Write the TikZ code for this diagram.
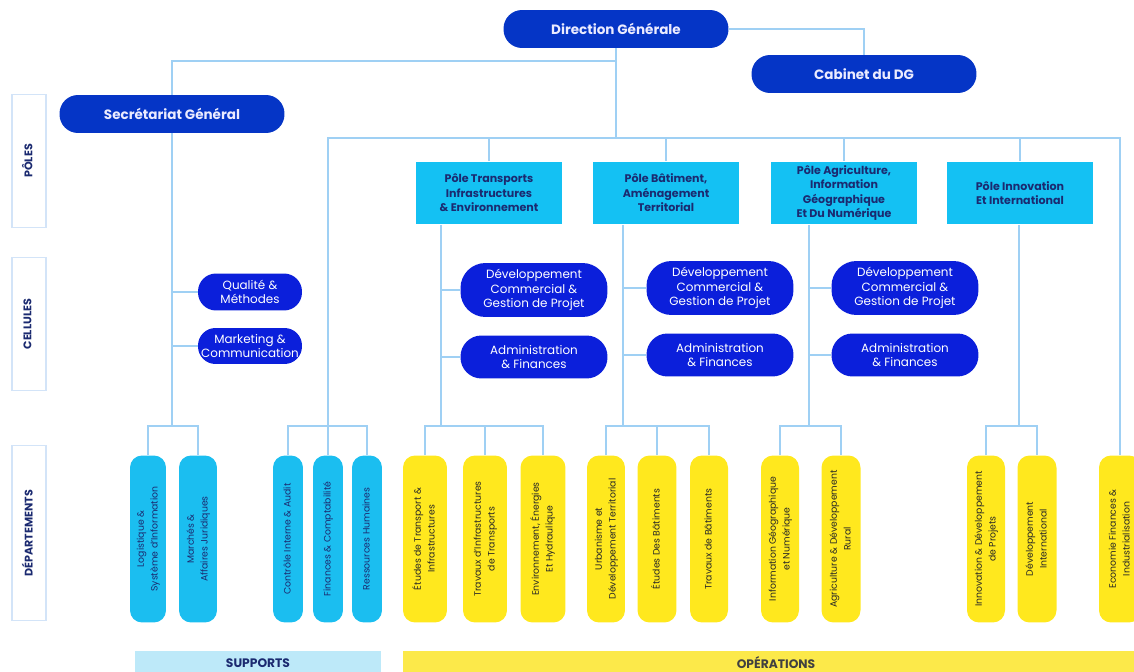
\documentclass[tikz,border=0pt]{standalone}
\usepackage{fontspec}
\setmainfont{Poppins}

\definecolor{dgblue}{HTML}{0535C6}
\definecolor{cellblue}{HTML}{0B1FDB}
\definecolor{polecyan}{HTML}{14C1F3}
\definecolor{supcyan}{HTML}{1BBEF0}
\definecolor{opyellow}{HTML}{FFE81E}
\definecolor{linkblue}{HTML}{9FD0F4}
\definecolor{navytext}{HTML}{1B2A70}
\definecolor{sideframe}{HTML}{D3E4F8}
\definecolor{suplight}{HTML}{BDE9F9}
\definecolor{oplight}{HTML}{FCE94A}

\newcommand{\vtext}[1]{\rotatebox{90}{\begin{tabular}{@{}c@{}}#1\end{tabular}}}

\begin{document}
\begin{tikzpicture}[x = 0.02cm, y = -0.02cm,
	link/.style = {draw = linkblue, line width = 0.7pt},
	top/.style = {fill = dgblue, text = white!92!blue, rounded corners = 0.37cm,
		minimum width = 4.5cm, minimum height = 0.76cm,
		font = \fontsize{7.7}{9}\selectfont\bfseries},
	pole/.style = {fill = polecyan, text = navytext, minimum width = 2.94cm,
		minimum height = 1.26cm, align = center, inner sep = 1pt,
		font = \fontsize{6.3}{8.3}\selectfont\bfseries},
	cell/.style = {fill = cellblue, text = white, align = center, inner sep = 1pt,
		font = \fontsize{6.8}{8.3}\selectfont},
	dept/.style = {rounded corners = 0.24cm, minimum height = 3.34cm, inner sep = 0pt,
		font = \fontsize{5.3}{7.8}\selectfont},
	sup/.style = {dept, fill = supcyan, text = navytext},
	ops/.style = {dept, fill = opyellow, text = black!85},
	side/.style = {draw = sideframe, line width = 0.7pt, minimum width = 0.68cm,
		text = navytext, font = \fontsize{6.3}{7}\selectfont\bfseries},
	band/.style = {minimum height = 0.5cm, inner sep = 0pt,
		font = \fontsize{7}{8}\selectfont\bfseries}]

	\path [use as bounding box] (0, 0) rectangle (1134, 672);
	\clip (0, 0) rectangle (1134, 672);

	% Direction and its offices

	\node [top] (dg) at (616, 29) {Direction Générale};
	\node [top] (cab) at (864, 74) {Cabinet du DG};
	\node [top] (sg) at (172, 114) {Secrétariat Général};

	% Row labels on the left

	\node [side, minimum height = 2.66cm] (lpole) at (29, 161) {\vtext{PÔLES}};
	\node [side, minimum height = 2.66cm] (lcell) at (29, 324) {\vtext{CELLULES}};
	\node [side, minimum height = 3.5cm] (ldept) at (29, 533) {\vtext{DÉPARTEMENTS}};

	% Poles

	\node [pole] (p1) at (489, 193) {Pôle Transports\\Infrastructures\\\& Environnement};
	\node [pole] (p2) at (666, 193) {Pôle Bâtiment,\\Aménagement\\Territorial};
	\node [pole] (p3) at (844, 193) {Pôle Agriculture,\\Information\\Géographique\\Et Du Numérique};
	\node [pole] (p4) at (1020, 193) {Pôle Innovation\\Et International};

	% Cells

	\begin{scope}[every node/.append style = {cell}]

		\node [minimum width = 2.08cm, minimum height = 0.74cm, rounded corners = 0.36cm]
			(cq) at (250, 292) {Qualité \&\\Méthodes};
		\node [minimum width = 2.08cm, minimum height = 0.72cm, rounded corners = 0.35cm]
			(cm) at (250, 346) {Marketing \&\\Communication};

		\node [minimum width = 2.94cm, minimum height = 1.08cm, rounded corners = 0.5cm]
			(c1a) at (534, 290) {Développement\\Commercial \&\\Gestion de Projet};
		\node [minimum width = 2.94cm, minimum height = 0.86cm, rounded corners = 0.42cm]
			(c1b) at (534, 357) {Administration\\\& Finances};
		\node [minimum width = 2.94cm, minimum height = 1.08cm, rounded corners = 0.5cm]
			(c2a) at (720, 288) {Développement\\Commercial \&\\Gestion de Projet};
		\node [minimum width = 2.94cm, minimum height = 0.86cm, rounded corners = 0.42cm]
			(c2b) at (720, 355) {Administration\\\& Finances};
		\node [minimum width = 2.94cm, minimum height = 1.08cm, rounded corners = 0.5cm]
			(c3a) at (905, 288) {Développement\\Commercial \&\\Gestion de Projet};
		\node [minimum width = 2.94cm, minimum height = 0.86cm, rounded corners = 0.42cm]
			(c3b) at (905, 355) {Administration\\\& Finances};

	\end{scope}

	% Departments

	\node [sup, minimum width = 0.72cm] (d1) at (148, 539) {\vtext{Logistique \&\\Système d'Information}};
	\node [sup, minimum width = 0.76cm] (d2) at (198, 539) {\vtext{Marchés \&\\Affaires Juridiques}};
	\node [sup, minimum width = 0.6cm] (d3) at (288, 539) {\vtext{Contrôle Interne \& Audit}};
	\node [sup, minimum width = 0.6cm] (d4) at (328, 539) {\vtext{Finances \& Comptabilité}};
	\node [sup, minimum width = 0.6cm] (d5) at (367, 539) {\vtext{Ressources Humaines}};

	\node [ops, minimum width = 0.88cm] (e1) at (425, 539) {\vtext{Études de Transport \&\\Infrastructures}};
	\node [ops, minimum width = 0.88cm] (e2) at (485, 539) {\vtext{Travaux d'Infrastructures\\de Transports}};
	\node [ops, minimum width = 0.9cm] (e3) at (543, 539) {\vtext{Environnement, Énergies\\Et Hydraulique}};
	\node [ops, minimum width = 0.76cm] (e4) at (606, 539) {\vtext{Urbanisme et\\Développement Territorial}};
	\node [ops, minimum width = 0.78cm] (e5) at (657, 539) {\vtext{Études Des Bâtiments}};
	\node [ops, minimum width = 0.76cm] (e6) at (709, 539) {\vtext{Travaux de Bâtiments}};
	\node [ops, minimum width = 0.76cm] (e7) at (780, 539) {\vtext{Information Géographique\\et Numérique}};
	\node [ops, minimum width = 0.78cm] (e8) at (841, 539) {\vtext{Agriculture \& Développement\\Rural}};
	\node [ops, minimum width = 0.76cm] (e9) at (986, 539) {\vtext{Innovation \& Développement\\de Projets}};
	\node [ops, minimum width = 0.78cm] (e10) at (1037, 539) {\vtext{Développement\\International}};
	\node [ops, minimum width = 0.84cm] (e11) at (1120, 539) {\vtext{Economie Finances \&\\Industrialisation}};

	% Bands at the bottom

	\node [band, fill = suplight, text = navytext, minimum width = 4.94cm] (bsup) at (258, 663) {SUPPORTS};
	\node [band, fill = oplight, text = black!75, minimum width = 14.94cm] (bops) at (776, 663) {OPÉRATIONS};

	% Connectors

	\coordinate (sgtop) at (172, 61);
	\coordinate (polebar) at (616, 138);
	\coordinate (jsg) at (172, 426);
	\coordinate (jsp) at (328, 426);
	\coordinate (j1) at (441, 426);
	\coordinate (j2) at (623, 426);
	\coordinate (j3) at (809, 426);
	\coordinate (j4) at (1019, 426);

	\begin{scope}[every path/.append style = {link}]

		\draw (dg.east) -| (cab.north);
		\draw (dg.south) -- (polebar);
		\draw (dg.south |- sgtop) -| (sg.north);
		\draw (sg.south) -- (jsg);
		\draw (d4.north) |- (polebar) -| (e11.north);

		\draw (p1.north) -- (p1.north |- polebar);
		\draw (p2.north) -- (p2.north |- polebar);
		\draw (p3.north) -- (p3.north |- polebar);
		\draw (p4.north) -- (p4.north |- polebar);

		\draw (p1.south -| j1) -- (j1);
		\draw (p2.south -| j2) -- (j2);
		\draw (p3.south -| j3) -- (j3);
		\draw (p4.south -| j4) -- (j4);

		\draw (cq.west) -- (cq.west -| jsg);
		\draw (cm.west) -- (cm.west -| jsg);
		\draw (c1a.west) -- (c1a.west -| j1);
		\draw (c1b.west) -- (c1b.west -| j1);
		\draw (c2a.west) -- (c2a.west -| j2);
		\draw (c2b.west) -- (c2b.west -| j2);
		\draw (c3a.west) -- (c3a.west -| j3);
		\draw (c3b.west) -- (c3b.west -| j3);

		\draw (d1.north) |- (jsg) -| (d2.north);
		\draw (d3.north) |- (jsp) -| (d5.north);
		\draw (e1.north) |- (j1) -| (e3.north);
		\draw (e2.north) -- (e2.north |- j1);
		\draw (e4.north) |- (j2) -| (e6.north);
		\draw (e5.north) -- (e5.north |- j2);
		\draw (e7.north) |- (j3) -| (e8.north);
		\draw (e9.north) |- (j4) -| (e10.north);

	\end{scope}

\end{tikzpicture}
\end{document}
